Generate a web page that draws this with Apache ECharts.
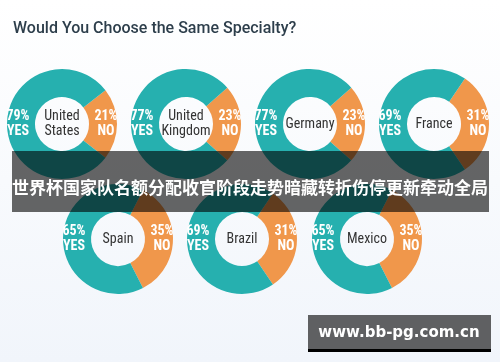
<!DOCTYPE html>
<html>
<head>
<meta charset="utf-8">
<script src="https://cdn.jsdelivr.net/npm/echarts@6/dist/echarts.min.js"></script>
<style>
html,body{margin:0;padding:0;}
#c{width:500px;height:362px;}
</style>
</head>
<body>
<div id="c"></div>
<script>
const countries = ['United\nStates', 'United\nKingdom', 'Germany', 'France', 'Spain', 'Brazil', 'Mexico'];
const yesValues = [79, 77, 77, 69, 65, 69, 65];
const noValues = [21, 23, 23, 31, 35, 31, 35];
const titleText = 'Would You Choose the Same Specialty?';
const bannerText = '世界杯国家队名额分配收官阶段走势暗藏转折伤停更新牵动全局';
const watermarkText = 'www.bb-pg.com.cn';

const centers = [[62,124],[186,124],[310,124],[434,124],[118,239],[242,239],[367,239]];
const TEAL = '#26b0af', ORANGE = '#f0974b';
const NARROW = '"Liberation Sans Narrow", "Roboto Condensed", Roboto, sans-serif';

const chart = echarts.init(document.getElementById('c'), null, {renderer:'canvas'});
const series = countries.map((name, i) => {
  const noShare = noValues[i] / (noValues[i] + yesValues[i]);
  return {
    type: 'pie',
    center: centers[i],
    radius: [27, 55],
    startAngle: noShare * 180,
    clockwise: true,
    silent: true,
    animation: false,
    label: {
      show: true, position: 'inside', color: '#fff',
      fontFamily: NARROW, fontWeight: 'bold', fontSize: 14, lineHeight: 15,
      formatter: p => p.value + '%\n' + p.name
    },
    labelLine: {show: false},
    data: [
      {name: 'NO', value: noValues[i], itemStyle: {color: ORANGE}},
      {name: 'YES', value: yesValues[i], itemStyle: {color: TEAL}}
    ]
  };
});

const centerTexts = countries.map((name, i) => ({
  type: 'text', z: 10,
  x: centers[i][0], y: centers[i][1],
  style: {
    text: name, fill: '#333', font: '14px ' + NARROW,
    align: 'center', verticalAlign: 'middle', lineHeight: 15
  }
}));

chart.setOption({
  backgroundColor: new echarts.graphic.LinearGradient(0,0,0,1,[{offset:0,color:'#ffffff'},{offset:1,color:'#f1f5fb'}]),
  title: {
    text: titleText, left: 8, top: 16,
    textStyle: {fontFamily: 'Roboto', fontWeight: 500, fontSize: 16, color: '#2d3e4b'}
  },
  series: series,
  graphic: centerTexts.concat([
    {type:'rect', z: 20, shape:{x:12,y:151,width:477,height:61}, style:{fill:'rgba(0,0,0,0.6)'}},
    {type:'text', z: 21, x: 250, y: 188, style:{text: bannerText, fill:'#fff',
      font:'bold 17px "Noto Sans CJK SC"', align:'center', verticalAlign:'middle'}},
    {type:'rect', z: 20, shape:{x:308,y:315,width:183,height:35}, style:{fill:'#5f6062'}},
    {type:'rect', z: 20, shape:{x:308,y:349,width:183,height:3}, style:{fill:'#000'}},
    {type:'text', z: 21, x: 399, y: 333, style:{text: watermarkText, fill:'#fff',
      font:'bold 15px "DejaVu Sans"', align:'center', verticalAlign:'middle'}}
  ])
});
</script>
</body>
</html>
